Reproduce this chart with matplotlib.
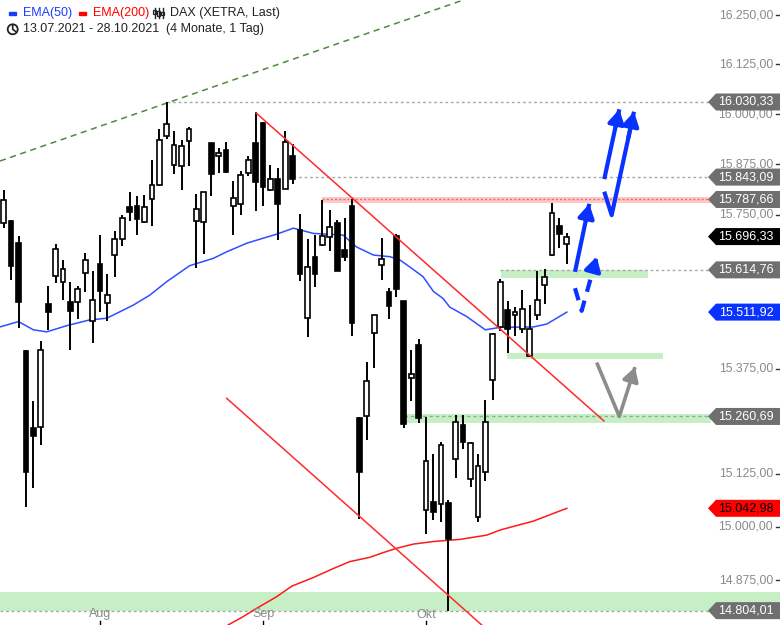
"""DAX Tageschart mit EMA(50), EMA(200), Trendlinien und Szenario-Pfeilen."""
import matplotlib
matplotlib.use('Agg')
import matplotlib.pyplot as plt
from matplotlib.patches import Polygon, Circle, Rectangle
from matplotlib.lines import Line2D
from matplotlib.transforms import IdentityTransform, blended_transform_factory
import numpy as np
import pandas as pd

plt.rcParams['font.family'] = ['Liberation Sans', 'DejaVu Sans']

# Handelstage 13.07.2021 - 28.10.2021, Kerze 0 (13.07.) liegt links ausserhalb
dates = pd.bdate_range('2021-07-13', '2021-10-28')

opens = [15729, 15735, 15680, 15418, 15233, 15236, 15532, 15600, 15585, 15537,
         15536, 15606, 15490, 15628, 15533, 15650, 15690, 15769, 15772, 15731,
         15788, 15824, 15945, 15872, 15870, 15932, 15734, 15732, 15927, 15895,
         15910, 15771, 15776, 15852, 15927, 15978, 15811, 15838, 15814, 15895,
         15713, 15497, 15646, 15676, 15695, 15729, 15663, 15772, 15256, 15261,
         15461, 15626, 15560, 15698, 15538, 15354, 15432, 15038, 15057, 15052,
         15055, 15159, 15240, 15111, 15022, 15128, 15347, 15477, 15516, 15506,
         15470, 15405, 15504, 15577, 15650, 15722, 15677]
highs = [15810, 15737, 15698, 15420, 15298, 15442, 15575, 15678, 15639, 15585,
         15575, 15655, 15612, 15700, 15605, 15710, 15749, 15806, 15796, 15799,
         15885, 15963, 16030.33, 15958, 15935, 15967, 15801, 15806, 15928, 15915,
         15930, 15833, 15858, 15895, 16005, 15980, 15873, 15865, 15958, 15925,
         15751, 15690, 15700, 15787, 15762, 15737, 15742, 15788, 15259, 15391,
         15505, 15693, 15571, 15702, 15539, 15420, 15447, 15259, 15171, 15199,
         15062, 15264, 15264, 15201, 15171, 15300, 15461, 15592, 15539, 15524,
         15566, 15529, 15612, 15616, 15778, 15741, 15705]
lows = [15717, 15590, 15473, 15047, 15090, 15193, 15469, 15582, 15541, 15420,
        15495, 15562, 15438, 15511, 15491, 15598, 15672, 15735, 15699, 15730,
        15723, 15821, 15938, 15850, 15810, 15871, 15620, 15654, 15797, 15854,
        15852, 15701, 15750, 15846, 15760, 15772, 15809, 15688, 15813, 15825,
        15588, 15452, 15574, 15672, 15662, 15611, 15637, 15455, 15017, 15204,
        15378, 15591, 15496, 15549, 15232, 15298, 15244, 14982, 15015, 15010,
        14804.01, 15115, 15183, 15093, 15010, 15108, 15300, 15467, 15414, 15455,
        15462, 15404, 15492, 15531, 15649, 15669, 15628]
closes = [15787, 15625, 15537, 15129, 15213, 15420, 15511, 15666, 15616, 15515,
          15567, 15638, 15541, 15564, 15553, 15690, 15741, 15758, 15740, 15768,
          15823, 15935, 15975, 15922, 15920, 15962, 15764, 15805, 15850, 15902,
          15856, 15791, 15848, 15885, 15832, 15819, 15838, 15777, 15930, 15839,
          15605, 15621, 15605, 15697, 15719, 15613, 15647, 15486, 15128, 15346,
          15504, 15641, 15527, 15569, 15243, 15362, 15256, 15155, 15034, 15192,
          14970, 15247, 15201, 15197, 15143, 15247, 15460, 15584, 15470, 15511,
          15519, 15470, 15541, 15597, 15754, 15702, 15696.33]

# EMA-Verlaeufe (Index / Wert)
ema50_idx = [0.5, 3, 5, 6.8, 9.5, 12.6, 14.9, 18.5, 20.7, 23, 26.1, 29.3, 31.1, 33.8,
             35.6, 37.8, 40.1, 42.8, 46.8, 48.6, 50.9, 53.1, 54.3, 55.8, 57.6, 59,
             60.3, 61.2, 63.5, 66, 68, 72.5, 74.3, 77]
ema50_val = [15476, 15489, 15469, 15464, 15479, 15493, 15497, 15529, 15553, 15586,
             15625, 15643, 15659, 15680, 15690, 15702, 15717, 15704, 15700, 15671,
             15651, 15647, 15641, 15622, 15598, 15562, 15545, 15524, 15501, 15469,
             15475, 15476, 15483, 15511.92]
ema200_idx = [31.3, 33.3, 34.7, 37.8, 39.9, 42.8, 45.5, 47.7, 50.4, 52.2, 54, 56.3,
              59, 62.6, 66.2, 68, 72.5, 74.3, 77]
ema200_val = [14771, 14790, 14805, 14836, 14861, 14881, 14902, 14918, 14928, 14939,
              14949, 14959, 14965, 14970, 14980, 14992, 15013, 15025, 15042.98]

# Markierte Kursmarken rechts (Wert, Hintergrund, Textfarbe)
tags = [(16030.33, '#6f6f6f', 'white'), (15843.09, '#6f6f6f', 'white'),
        (15787.66, '#6f6f6f', 'white'), (15696.33, '#000000', 'white'),
        (15614.76, '#6f6f6f', 'white'), (15511.92, '#0a32ff', 'white'),
        (15260.69, '#6f6f6f', 'white'), (15042.98, '#ff0000', 'black'),
        (14804.01, '#6f6f6f', 'white')]
# sichtbare Achsenwerte (15.625 / 15.500 / 15.250 liegen unter den Marken)
yticks = [16250, 16125, 16000, 15875, 15750, 15375, 15125, 15000, 14875]

# Linien und Zonen
green_trend = [(0.5, 15883), (63, 16288)]
red_upper = [(35.05, 16003), (82, 15250)]
red_lower = [(31.1, 15304), (65.5, 14771)]
levels_dotted = [(16030.33, 23), (15843.09, 40), (15614.76, 68), (14804.01, 0.5)]
green_zones = [(15595, 15615, 68.07, 88.0), (15398, 15412, 68.96, 90.0),
               (15246, 15266, 55.0, 97)]
bottom_zone = (14804.01, 14847)
red_zone = (15779, 15794, 43.95)

# Szenario-Pfeile
blue_up1 = [(82.05, 15838), (84.08, 16012)]
blue_up2 = [(82.05, 15807), (83.05, 15749), (86.06, 16006)]
blue_small = [(78.1, 15610), (80.03, 15777)]
blue_dashed = [(78.1, 15570), (79.0, 15515), (81.03, 15647)]
gray_path = [(81.03, 15390), (84.08, 15260.69), (86.2, 15379)]

W, H = 780, 625
fig = plt.figure(figsize=(W / 100, H / 100), dpi=100)
ax = fig.add_axes([0, 0, 710 / W, 1])
ax.set_yscale('log')
ax.set_xlim(0.5, 96.32)
ax.set_ylim(14770.8, 16288.2)
ax.axis('off')

x = np.arange(1, len(closes) + 1)
o, h, l, c = map(np.array, (opens, highs, lows, closes))
up = c >= o

# Zonen
for lo, hi, x0, x1 in green_zones:
    ax.fill_between([x0, x1], lo, hi, color='#c6efc6', lw=0, zorder=1)
ax.axhspan(bottom_zone[0], bottom_zone[1], xmin=0, xmax=W / 710, color='#c6efc6',
           lw=0, zorder=1, clip_on=False)
ax.fill_between([red_zone[2], 97], red_zone[0], red_zone[1], color='#ffc8c8', lw=0, zorder=1)
ax.plot([red_zone[2], 97], [15787.66] * 2, color='#e07070', lw=1, ls=(0, (1.5, 1.5)), zorder=1.5)
ax.plot([55.0, 97], [15260.69] * 2, color='#8fb08f', lw=1, ls=(0, (2.5, 2)), zorder=1.5)
for val, start in levels_dotted:
    ax.plot([start, 97], [val, val], color='#a8a8a8', lw=1, ls=(0, (2, 2)), zorder=1.5)

# Trendlinien
gx, gy = zip(*green_trend)
ax.plot(gx, gy, color='#4d8a3a', lw=1.1, ls=(0, (4, 3)), zorder=2)
for seg in (red_upper, red_lower):
    sx, sy = zip(*seg)
    ax.plot(sx, sy, color='#ff2a2a', lw=1.1, zorder=4)

# EMAs
ax.plot(ema50_idx, ema50_val, color='#2e4fff', lw=1.1, zorder=2)
ax.plot(ema200_idx, ema200_val, color='#ff1a1a', lw=1.1, zorder=2)

# Kerzen
ax.vlines(x, l, h, color='black', lw=1.4, zorder=3)
bw = 0.64
ax.bar(x[up], c[up] - o[up], bottom=o[up], width=bw, color='white',
       edgecolor='black', lw=1.2, zorder=3.5)
ax.bar(x[~up], o[~up] - c[~up], bottom=c[~up], width=bw, color='black',
       edgecolor='black', lw=1.2, zorder=3.5)

# Pfeile
def arrow_path(pts, color, lw, dashed=False):
    px, py = zip(*pts)
    ls = (0, (3, 2.2)) if dashed else '-'
    ax.plot(px, py, color=color, lw=lw, ls=ls, solid_capstyle='butt', zorder=5)
    # Spitze
    x0, y0 = pts[-2]
    x1, y1 = pts[-1]
    t = 0.75
    xs = x0 + (x1 - x0) * t
    ys = np.exp(np.log(y0) + (np.log(y1) - np.log(y0)) * t)
    ax.annotate('', xy=(x1, y1), xytext=(xs, ys),
                arrowprops=dict(arrowstyle='-|>,head_length=0.55,head_width=0.32',
                                color=color, lw=lw, mutation_scale=15,
                                shrinkA=0, shrinkB=0), zorder=5)

arrow_path(blue_up1, '#0a32ff', 3.0)
arrow_path(blue_up2, '#0a32ff', 3.0)
arrow_path(blue_small, '#0a32ff', 3.0)
arrow_path(blue_dashed, '#0a32ff', 3.0, dashed=True)
arrow_path(gray_path, '#8c8c8c', 2.6)

# Monats-Achse
bt = blended_transform_factory(ax.transData, ax.transAxes)
month_names = {8: 'Aug', 9: 'Sep', 10: 'Okt'}
for k in range(1, len(dates)):
    if dates[k].month != dates[k - 1].month:
        ax.text(k, 10.5 / H, month_names[dates[k].month], transform=bt, ha='center',
                va='center', fontsize=9, color='#8a8a8a', zorder=6)
        ax.plot([k, k], [0, 4 / H], transform=bt, color='black', lw=1, clip_on=False)


def fmt(v):
    return f"{v:,.2f}".replace(',', 'X').replace('.', ',').replace('X', '.')


def ypix(v):
    return ax.transData.transform((10, v))[1]


# Preisachse rechts
for v in yticks:
    yp = ypix(v)
    fig.text(773 / W, yp / H, fmt(v), ha='right', va='center', fontsize=8.8,
             color='#8a8a8a', zorder=4)
    fig.add_artist(Line2D([776 / W, 780 / W], [yp / H, yp / H], color='#333333',
                          lw=1, zorder=4))

for v, face, tc in tags:
    yp = ypix(v)
    hh = 8.5
    pts = [(708, yp), (716, yp + hh), (780, yp + hh), (780, yp - hh), (716, yp - hh)]
    fig.add_artist(Polygon([(px / W, py / H) for px, py in pts], closed=True,
                           facecolor=face, edgecolor='none', transform=fig.transFigure,
                           zorder=5))
    fig.text(746 / W, yp / H, fmt(v), ha='center', va='center', fontsize=9,
             color=tc, zorder=6)

# Legende
idt = IdentityTransform()
fig.add_artist(Rectangle((9, H - 14.7), 7, 2.6, color='#1a3cff', transform=idt))
fig.text(23 / W, 1 - 13 / H, 'EMA(50)', ha='left', va='center', fontsize=9, color='#1a3cff')
fig.add_artist(Rectangle((79, H - 14.7), 7, 2.6, color='#ff0000', transform=idt))
fig.text(93 / W, 1 - 13 / H, 'EMA(200)', ha='left', va='center', fontsize=9, color='#ff0000')
for cx, b0, b1 in [(154.5, 10, 14), (158.5, 11, 16), (162.5, 12, 15)]:
    fig.add_artist(Line2D([cx, cx], [H - 8, H - 18], color='#222222', lw=1, transform=idt))
    fig.add_artist(Rectangle((cx - 1.3, H - b1), 2.6, b1 - b0, facecolor='white',
                             edgecolor='#222222', lw=0.9, transform=idt))
fig.text(170 / W, 1 - 13 / H, 'DAX (XETRA, Last)', ha='left', va='center', fontsize=9,
         color='#222222')
fig.add_artist(Circle((12.7, H - 29.3), 5, fill=False, edgecolor='#222222', lw=1.3,
                      transform=idt))
fig.add_artist(Line2D([12.7, 12.7, 15.3], [H - 25.8, H - 29.3, H - 31.3], color='#222222',
                      lw=1.2, transform=idt))
fig.text(23 / W, 1 - 29 / H, '13.07.2021 - 28.10.2021', ha='left', va='center',
         fontsize=9, color='#222222')
fig.text(166 / W, 1 - 29 / H, '(4 Monate, 1 Tag)', ha='left', va='center', fontsize=9,
         color='#222222')

fig.savefig('out.png', dpi=100, facecolor='white')
